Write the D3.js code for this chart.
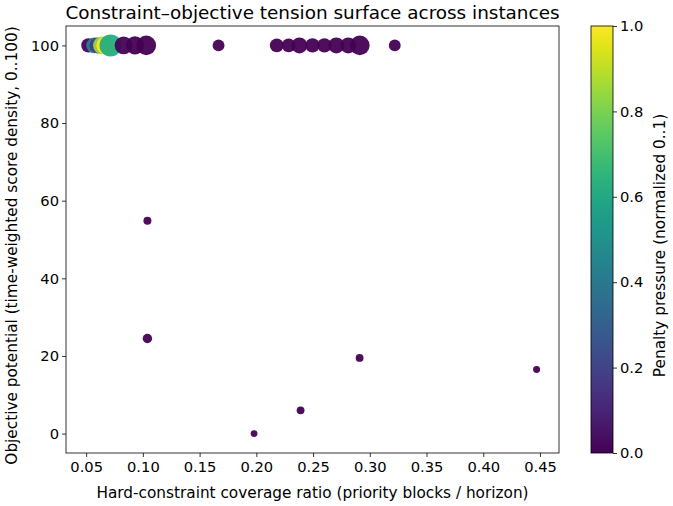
<!DOCTYPE html>
<html>
<head>
<meta charset="utf-8">
<script src="https://cdn.jsdelivr.net/npm/d3@7"></script>
<style>
  body { margin: 0; background: #fff; }
  text { font-family: "DejaVu Sans", sans-serif; fill: #000; }
</style>
</head>
<body>
<div id="chart"></div>
<script>
// coverage ratio, objective potential, penalty pressure, marker size (pt^2-ish)
var coverage = [0.052, 0.057, 0.060, 0.064, 0.067, 0.0715, 0.083, 0.093, 0.103,
                0.1667, 0.218, 0.2285, 0.238, 0.2495, 0.260, 0.2705, 0.281, 0.2912, 0.322,
                0.104, 0.104, 0.198, 0.239, 0.291, 0.447];
var objective = [100, 100, 100, 100, 100, 100, 100, 100, 100,
                 100, 100, 100, 100, 100, 100, 100, 100, 100, 100,
                 54.8, 24.5, 0, 6, 19.5, 16.5];
var penalty = [0.01, 0.45, 0.18, 0.85, 1.0, 0.62, 0.01, 0.0, 0.0,
               0.0, 0.0, 0.0, 0.0, 0.0, 0.0, 0.0, 0.0, 0.0, 0.0,
               0.0, 0.0, 0.0, 0.0, 0.0, 0.0];
var size = [80, 95, 100, 125, 125, 190, 125, 130, 150,
            55, 75, 75, 100, 80, 80, 100, 100, 150, 55,
            25, 35, 18, 24, 24, 19];

var xTicks = [0.05, 0.10, 0.15, 0.20, 0.25, 0.30, 0.35, 0.40, 0.45];
var yTicks = [0, 20, 40, 60, 80, 100];
var cTicks = [0.0, 0.2, 0.4, 0.6, 0.8, 1.0];

var W = 673, H = 506;
var margin = {top: 26, right: 114, bottom: 53, left: 66},
    width = W - margin.left - margin.right,
    height = H - margin.top - margin.bottom;

var tickFont = "14.7px", labelFont = "15.3px", titleFont = "18.4px";

var svg = d3.select("#chart").append("svg")
    .attr("width", W)
    .attr("height", H);

var g = svg.append("g")
    .attr("transform", "translate(" + margin.left + "," + margin.top + ")");

// matplotlib-style 5% margins
var xmin = d3.min(coverage), xmax = d3.max(coverage);
var xpad = (xmax - xmin) * 0.05;
var x = d3.scaleLinear()
    .domain([xmin - xpad, xmax + xpad])
    .range([0, width]);

var y = d3.scaleLinear()
    .domain([-5, 105])
    .range([height, 0]);

var r = d3.scaleSqrt().domain([0, 100]).range([0, 8]);
var color = d3.scaleSequential(d3.interpolateViridis).domain([0, 1]);

// points
var pts = coverage.map(function(d, i) {
  return {x: d, y: objective[i], c: penalty[i], s: size[i]};
});

g.selectAll("circle")
  .data(pts)
  .enter()
  .append("circle")
    .attr("cx", function(d) { return x(d.x); })
    .attr("cy", function(d) { return y(d.y); })
    .attr("r", function(d) { return r(d.s); })
    .style("fill", function(d) { return color(d.c); })
    .style("opacity", 0.95);

// axes
var xAxis = g.append("g")
    .attr("transform", "translate(0," + height + ")")
    .call(d3.axisBottom(x).tickValues(xTicks).tickFormat(d3.format(".2f")).tickSize(4).tickSizeOuter(0));
var yAxis = g.append("g")
    .call(d3.axisLeft(y).tickValues(yTicks).tickSize(4).tickSizeOuter(0));

[xAxis, yAxis].forEach(function(a) {
  a.select(".domain").remove();
  a.selectAll("text").style("font-size", tickFont).style("font-family", "DejaVu Sans, sans-serif");
  a.selectAll("line").attr("stroke", "#000").attr("stroke-width", 0.8);
});
xAxis.selectAll("text").attr("dy", "0.85em");

// frame
g.append("rect")
    .attr("width", width)
    .attr("height", height)
    .attr("fill", "none")
    .attr("stroke", "#000")
    .attr("stroke-width", 0.8);

// labels
svg.append("text")
    .attr("x", margin.left + width / 2)
    .attr("y", 19)
    .attr("text-anchor", "middle")
    .style("font-size", titleFont)
    .text("Constraint\u2013objective tension surface across instances");

svg.append("text")
    .attr("x", margin.left + width / 2)
    .attr("y", 498)
    .attr("text-anchor", "middle")
    .style("font-size", labelFont)
    .text("Hard-constraint coverage ratio (priority blocks / horizon)");

svg.append("text")
    .attr("transform", "translate(17," + (margin.top + height / 2 + 6) + ") rotate(-90)")
    .attr("text-anchor", "middle")
    .style("font-size", labelFont)
    .text("Objective potential (time-weighted score density, 0..100)");

// colorbar
var cbX = 591, cbW = 22;
var defs = svg.append("defs");
var grad = defs.append("linearGradient")
    .attr("id", "viridis")
    .attr("x1", "0%").attr("y1", "100%")
    .attr("x2", "0%").attr("y2", "0%");
d3.range(0, 1.0001, 0.05).forEach(function(t) {
  grad.append("stop")
    .attr("offset", (t * 100) + "%")
    .attr("stop-color", color(t));
});

var cy = d3.scaleLinear().domain([0, 1]).range([margin.top + height, margin.top]);

svg.append("rect")
    .attr("x", cbX)
    .attr("y", margin.top)
    .attr("width", cbW)
    .attr("height", height)
    .attr("fill", "url(#viridis)")
    .attr("stroke", "#000")
    .attr("stroke-width", 0.8);

var cAxis = svg.append("g")
    .attr("transform", "translate(" + (cbX + cbW) + ",0)")
    .call(d3.axisRight(cy).tickValues(cTicks).tickFormat(d3.format(".1f")).tickSize(4).tickSizeOuter(0));
cAxis.select(".domain").remove();
cAxis.selectAll("text").style("font-size", tickFont).style("font-family", "DejaVu Sans, sans-serif");
cAxis.selectAll("line").attr("stroke", "#000").attr("stroke-width", 0.8);

svg.append("text")
    .attr("transform", "translate(665," + (margin.top + height / 2 + 6) + ") rotate(-90)")
    .attr("text-anchor", "middle")
    .style("font-size", labelFont)
    .text("Penalty pressure (normalized 0..1)");
</script>
</body>
</html>
